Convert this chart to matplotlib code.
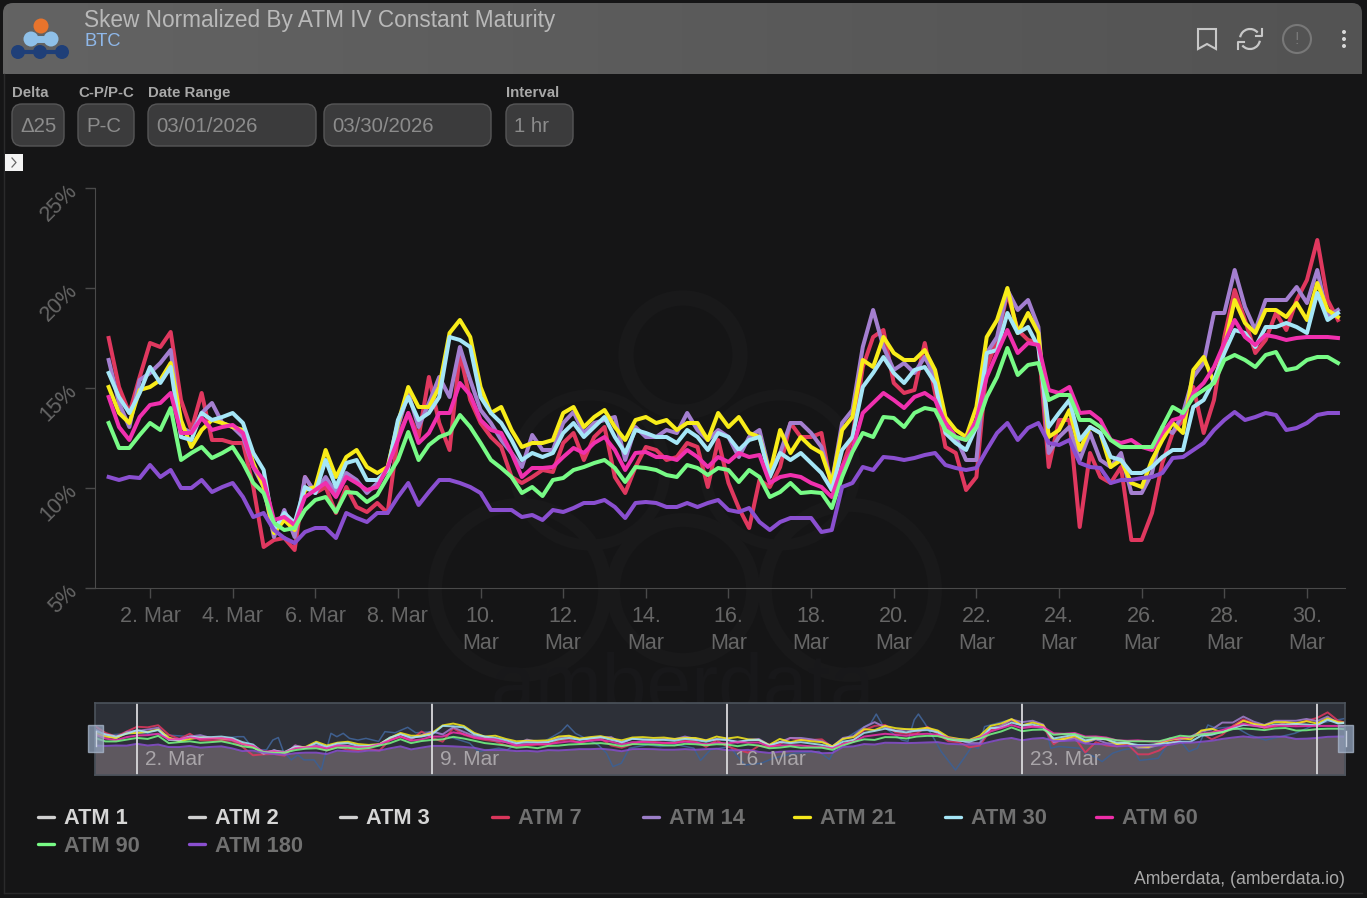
import numpy as np
import pandas as pd
import matplotlib
matplotlib.use("Agg")
import matplotlib.pyplot as plt
import matplotlib.dates as mdates
from matplotlib.patches import FancyBboxPatch, Circle, Rectangle, Arc, Polygon

plt.rcParams['font.family'] = ['Liberation Sans', 'DejaVu Sans']

# --- values, one value every 6 hours from 1 March ---
atm_7 = [17.5,15.05,13.75,15.55,17.25,17.05,17.8,14.4,12.9,14.75,12.4,12.4,12.25,12.25,10.05,7.05,7.4,7.5,6.9,10.55,9.75,10.05,8.75,10.05,9.05,8.8,9.25,8.75,12.55,13.75,12.55,15.55,13.25,11.9,16.75,14.4,13.25,12.55,
         12.05,10.55,10.25,10.55,10.9,10.8,12.25,12.75,11.4,12.55,13.05,10.55,9.75,11.05,12.05,11.9,11.4,11.55,12.25,12.05,10.05,12.4,10.25,9.0,8.0,10.4,10.05,11.05,13.25,12.55,12.55,12.75,9.9,11.05,12.55,16.05,17.55,17.9,15.25,14.75,
         14.9,17.25,14.75,12.05,11.75,9.9,10.55,16.05,17.4,19.75,17.9,17.4,17.25,11.05,13.4,13.4,8.05,11.75,10.55,10.25,11.05,7.4,7.4,8.75,11.25,12.75,13.4,15.05,12.75,14.4,17.55,19.9,18.4,16.75,17.4,18.75,17.9,19.4,20.4,22.4,19.4,18.4]
atm_14 = [16.4,14.25,13.05,15.4,15.75,16.25,16.9,13.05,12.75,13.75,14.25,13.25,13.05,12.55,11.05,10.05,7.55,8.9,7.55,10.55,9.75,10.55,9.75,10.75,10.4,9.75,10.25,10.9,13.05,14.75,13.05,14.25,15.55,14.55,17.05,15.4,13.9,13.25,
          12.4,11.75,11.05,12.65,11.9,11.9,13.25,13.8,12.75,13.25,13.4,13.55,11.4,13.05,12.55,12.55,12.9,12.75,13.75,12.9,12.4,12.9,12.55,11.55,12.55,12.9,10.75,11.75,13.25,13.25,12.75,12.05,10.25,13.25,13.9,17.05,18.9,17.05,15.9,16.25,
          15.75,16.55,15.55,12.9,12.55,11.4,11.4,16.75,17.55,19.9,18.9,19.4,18.05,11.75,12.55,13.05,11.4,12.75,11.4,11.05,11.75,9.75,9.75,10.75,13.05,12.75,13.75,15.55,16.25,18.75,18.75,20.9,19.05,17.9,19.4,19.4,19.4,20.05,19.25,20.9,18.55,18.9]
atm_21 = [15.05,13.75,13.25,14.9,15.05,15.4,16.25,13.4,12.05,12.9,13.4,13.25,13.05,12.9,11.25,10.05,7.75,8.4,7.9,9.9,10.05,11.9,10.55,11.55,11.9,11.05,10.75,11.05,13.25,15.05,14.05,14.05,15.05,17.75,18.4,17.55,15.05,13.75,
          14.05,12.9,12.05,12.25,12.25,12.4,13.75,14.05,13.05,13.55,13.9,13.05,12.4,13.4,13.55,13.25,13.4,12.9,13.25,13.25,12.4,13.75,13.05,13.55,12.75,12.55,10.75,12.9,11.75,12.55,12.05,11.75,10.25,12.9,13.55,16.4,16.05,17.55,16.75,16.4,
          16.4,16.9,15.9,13.55,12.9,12.55,14.05,17.55,18.4,20.0,17.75,18.75,17.75,12.55,12.9,13.9,11.9,13.05,12.75,11.05,11.4,10.25,10.05,11.4,12.4,13.25,12.75,15.9,16.55,15.25,17.05,19.4,18.25,17.75,18.9,18.9,18.55,19.25,18.4,20.25,18.9,18.55]
atm_30 = [15.75,14.55,13.75,14.75,16.05,15.25,16.05,12.55,12.4,13.75,13.4,13.55,13.75,13.25,11.75,10.9,7.9,8.75,8.25,10.05,9.75,11.4,10.05,11.25,11.4,10.4,10.4,10.9,13.4,14.55,13.4,13.75,14.55,17.55,17.4,17.05,14.55,13.75,
          13.25,12.4,11.4,11.75,11.55,11.75,12.75,13.25,12.55,13.05,13.55,12.55,11.75,12.9,12.75,12.55,12.55,12.25,12.9,12.55,11.9,12.75,12.55,11.9,12.4,12.55,10.55,11.75,11.4,11.75,11.25,10.75,9.9,11.9,12.55,15.05,15.75,16.55,15.75,15.25,
          15.9,16.05,15.25,12.75,12.25,11.9,13.05,16.75,16.9,18.75,17.75,18.05,17.05,13.05,13.75,14.4,12.4,13.05,12.75,11.55,11.4,10.75,10.75,11.05,11.55,11.9,11.9,14.05,14.4,15.4,16.75,17.9,17.75,17.05,18.05,18.05,18.25,18.05,17.75,19.75,18.4,18.75]
atm_60 = [14.55,13.05,12.4,13.55,14.15,14.25,14.75,12.75,12.75,13.5,12.9,13.05,13.15,12.75,11.05,10.4,8.4,8.55,8.15,9.55,9.9,10.25,9.55,10.55,10.25,9.9,10.05,11.05,12.4,13.75,12.25,12.75,13.75,13.75,15.25,14.65,13.4,12.9,
          12.75,11.75,10.55,11.0,11.0,11.05,11.55,12.0,11.75,12.25,12.55,11.9,10.9,11.75,11.8,11.55,11.55,11.4,11.9,11.55,11.05,11.55,11.3,11.75,11.55,11.65,10.25,10.55,10.65,10.55,10.25,10.05,9.55,11.05,11.9,13.75,14.25,14.75,14.4,14.0,
          14.55,14.75,14.4,13.25,12.55,12.4,13.4,15.55,16.75,17.9,16.75,17.25,17.15,14.9,14.75,15.05,13.75,13.8,13.4,12.4,12.25,12.4,12.05,11.9,12.75,13.4,13.55,14.75,15.25,16.05,17.25,18.4,17.55,17.15,17.65,17.55,17.4,17.5,17.55,17.55,17.55,17.5]
atm_90 = [13.25,12.0,12.0,12.65,13.25,12.9,14.0,11.4,11.75,12.05,11.5,11.75,12.05,11.25,10.25,9.75,8.25,7.9,8.0,8.9,9.4,9.55,8.8,9.8,9.75,9.3,9.65,10.55,11.4,12.8,11.4,12.15,12.55,12.75,13.65,13.05,12.25,11.4,
          11.0,10.55,9.75,10.05,9.6,10.4,10.5,10.9,11.05,11.25,11.4,11.0,10.3,11.05,11.0,10.9,10.65,10.55,11.15,11.0,10.65,11.0,10.9,10.3,10.9,10.55,9.55,9.8,10.25,9.75,9.8,9.75,9.0,10.55,11.8,12.75,12.55,13.55,13.5,13.05,
          13.75,14.0,13.9,12.9,12.55,12.4,13.05,14.55,15.55,17.0,15.65,16.15,16.25,14.4,14.65,14.65,13.4,13.4,13.05,12.4,12.05,12.05,12.05,12.05,13.05,14.05,13.75,14.55,14.9,15.25,16.4,16.65,16.4,16.05,16.65,16.8,15.9,16.0,16.4,16.55,16.55,16.25]
atm_180 = [10.55,10.4,10.55,10.5,11.15,10.55,10.9,10.0,10.0,10.4,9.8,10.05,10.25,9.55,8.55,8.75,7.9,7.5,7.25,7.8,8.0,8.0,7.5,8.75,8.5,8.3,8.75,8.75,9.55,10.25,9.15,9.8,10.4,10.4,10.25,10.05,9.75,8.9,
           8.9,8.9,8.55,8.65,8.4,8.9,8.8,9.0,9.25,9.25,9.4,9.05,8.5,9.25,9.3,9.25,9.05,9.05,9.25,9.05,9.25,9.4,8.9,8.8,9.0,8.3,7.9,8.3,8.5,8.5,8.5,7.8,7.9,10.05,10.25,11.05,10.9,11.55,11.5,11.4,
           11.5,11.65,11.75,11.15,11.0,10.9,11.0,11.9,12.75,13.25,12.4,13.0,13.25,12.25,12.15,12.4,11.25,11.05,11.0,10.25,10.4,10.4,10.5,10.55,10.75,11.5,11.55,11.9,12.25,12.9,13.4,13.8,13.4,13.55,13.75,13.65,12.9,13.0,13.25,13.65,13.75,13.75]

# ATM 1 is switched off in the main plot, only the navigator still shows it
atm_1_days = [1.0,2.0,3.0,4.0,4.38,4.53,4.68,4.88,5.07,5.22,5.35,5.47,5.66,5.81,5.96,6.2,6.37,6.47,6.6,6.74,6.89,7.04,7.24,7.43,7.73,7.88,8.12,8.42,8.61,9.01,9.89,10.09,10.34,10.58,10.78,10.98,11.66,12.06,12.21,12.4,12.94,13.14,13.29,13.49,13.68,14.12,14.42,14.81,15.21,15.37,15.6,16.07,
              16.22,16.42,16.81,17.1,17.6,18.18,18.43,18.63,19.26,19.41,19.54,19.71,20.15,20.29,20.44,20.54,20.69,20.93,21.08,21.42,21.62,21.81,21.96,22.11,22.7,23.04,23.29,23.58,23.68,23.87,24.36,24.51,24.71,24.9,25.15,25.39,25.64,25.79,26.23,26.47,26.77,26.96,27.16,27.41,27.6,28.04,28.39,28.78,29.47,30.05,30.69]
atm_1_vals = [14.0,15.0,14.0,13.0,13.7,13.7,10.8,9.0,9.0,12.5,13.4,8.4,5.4,7.2,5.4,5.4,1.8,7.8,14.9,13.7,14.9,13.1,12.5,13.1,12.0,15.5,15.1,17.05,15.1,15.5,11.4,8.4,9.0,9.6,9.0,10.8,12.0,15.5,17.9,14.9,10.8,7.8,3.0,4.2,9.6,10.8,10.2,10.8,9.6,5.2,9.0,10.2,
              7.2,3.6,4.2,6.0,7.8,8.4,5.6,11.4,17.3,18.5,21.8,17.3,12.5,12.0,19.7,21.8,18.5,12.5,8.4,1.8,6.0,10.2,9.6,17.3,19.7,17.3,17.3,16.1,9.6,10.2,9.6,7.8,6.6,4.8,7.8,9.0,9.6,5.2,6.0,11.4,12.0,8.4,9.6,17.9,16.7,17.3,14.3,12.5,14.9,18.5,20.3]

series_names = ["ATM 7", "ATM 14", "ATM 21", "ATM 30", "ATM 60", "ATM 90", "ATM 180"]
series_vals = [atm_7, atm_14, atm_21, atm_30, atm_60, atm_90, atm_180]
series_cols = ["#e0385f", "#a47fd0", "#f8ec1a", "#a5e6f7", "#f030ae", "#78fb86", "#8a4fd0"]

legend_names = ["ATM 1", "ATM 2", "ATM 3", "ATM 7", "ATM 14", "ATM 21", "ATM 30", "ATM 60", "ATM 90", "ATM 180"]
legend_cols = ["#d0d0d0", "#d0d0d0", "#d0d0d0", "#d9365b", "#9b7ec8", "#f5e81c", "#a5e6f7", "#ee2ea8", "#78fb86", "#8a4fd0"]
legend_on = [False, False, False, True, True, True, True, True, True, True]

y_ticks = [5, 10, 15, 20, 25]
main_tick_days = list(range(2, 31, 2))
nav_tick_days = [2, 9, 16, 23, 30]

W, H = 1367, 898
BG = "#151516"
start = pd.Timestamp("2026-03-01")


def axes_px(fig, left, top, right, bottom):
    return fig.add_axes([left / W, 1 - bottom / H, (right - left) / W, (bottom - top) / H])


def day_num(d):
    return mdates.date2num(start + pd.Timedelta(days=d - 1))


fig = plt.figure(figsize=(W / 100, H / 100), dpi=100, facecolor=BG)

# pixel canvas for all the page furniture
bg = fig.add_axes([0, 0, 1, 1])
bg.set_xlim(0, W)
bg.set_ylim(H, 0)
bg.axis("off")

# watermark
for cx, cy, r, lw in [(683, 355, 57, 11), (590, 470, 75, 8), (780, 470, 75, 8),
                      (520, 590, 85, 10), (683, 590, 70, 10), (850, 590, 85, 10)]:
    bg.add_patch(Circle((cx, cy), r, fill=False, ec="#19191a", lw=lw))
bg.text(683, 690, "amberdata", color="#18181a", fontsize=58, ha="center", va="center")

# header
grad = np.linspace(0, 1, 256).reshape(1, -1)
im = bg.imshow(grad, extent=(3, 1362, 74, 3), cmap=matplotlib.colors.LinearSegmentedColormap.from_list("h", ["#636363", "#535353"]), aspect="auto", zorder=1)
clip = FancyBboxPatch((3, 3), 1359, 90, boxstyle="round,pad=0,rounding_size=10", lw=0, fc="none", transform=bg.transData)
bg.add_patch(clip)
im.set_clip_path(clip)
bg.set_xlim(0, W)
bg.set_ylim(H, 0)
bg.plot([4, 4], [74, 893], color="#2a2a2b", lw=1, zorder=1)
bg.plot([4, 1362], [893, 893], color="#2a2a2b", lw=1, zorder=1)

# logo
for cx, cy, r, c in [(18, 52, 7, "#1f3f78"), (40, 52, 7, "#1f3f78"), (62, 52, 7, "#1f3f78")]:
    bg.add_patch(Circle((cx, cy), r, fc=c, lw=0, zorder=2))
bg.plot([18, 62], [52, 52], color="#1f3f78", lw=3, zorder=2)
bg.plot([31, 51], [39, 39], color="#8fc0e8", lw=5, zorder=2)
for cx in [31, 51]:
    bg.add_patch(Circle((cx, 39), 7.5, fc="#8fc0e8", lw=0, zorder=2))
bg.add_patch(Circle((41, 26), 7.5, fc="#e8742c", lw=0, zorder=2))

bg.text(84, 21, "Skew Normalized By ATM IV Constant Maturity", color="#b9b9b9", fontsize=16.3, va="center", zorder=3)
bg.text(84, 42, "BTC", color="#8fb8ea", fontsize=13.2, va="center", zorder=3)

# header icons
bg.add_patch(Polygon([(1198, 29), (1216, 29), (1216, 49), (1207, 44), (1198, 49)], closed=True, fill=False, ec="#c8c8c8", lw=1.5, zorder=3))
bg.add_patch(Arc((1250, 39), 20, 20, theta1=190, theta2=320, ec="#c8c8c8", lw=1.6, zorder=3))
bg.add_patch(Arc((1250, 39), 20, 20, theta1=10, theta2=140, ec="#c8c8c8", lw=1.6, zorder=3))
bg.plot([1262, 1262, 1256], [29, 36, 36], color="#c8c8c8", lw=1.5, zorder=3)
bg.plot([1238, 1238, 1244], [49, 42, 42], color="#c8c8c8", lw=1.5, zorder=3)
bg.add_patch(Circle((1297, 39), 14, fill=False, ec="#787878", lw=1.5, zorder=3))
bg.text(1297, 39, "!", color="#787878", fontsize=12, ha="center", va="center", zorder=3)
for dy in [32, 39, 46]:
    bg.add_patch(Circle((1344, dy), 2, fc="#d8d8d8", lw=0, zorder=3))

# controls
for x, label in [(12, "Delta"), (78, "C-P/P-C"), (148, "Date Range"), (506, "Interval")]:
    bg.text(x, 93, label, color="#a8a8a8", fontsize=10.8, fontweight="bold", va="center")
for x0, x1, label in [(12, 64, "\u039425"), (78, 134, "P-C"), (148, 316, "03/01/2026"), (324, 491, "03/30/2026"), (506, 573, "1 hr")]:
    bg.add_patch(FancyBboxPatch((x0, 104), x1 - x0, 42, boxstyle="round,pad=0,rounding_size=10", fc="#3b3b3c", ec="#565657", lw=1))
    bg.text(x0 + 8, 127, label, color="#8c8c8c", fontsize=14.7, va="center")
bg.add_patch(Rectangle((5, 154), 18, 17, fc="#f4f4f4", lw=0))
bg.plot([12, 16, 12], [158, 162.5, 167], color="#666666", lw=0.9)

# legend
slots = [(37, 817), (188, 817), (339, 817), (491, 817), (642, 817), (793, 817), (944, 817), (1095, 817), (37, 844), (188, 844)]
for (x, y), name, col, on in zip(slots, legend_names, legend_cols, legend_on):
    bg.plot([x + 1, x + 17], [y, y], color=col, lw=2.4, solid_capstyle="round")
    bg.text(x + 27, y + 2, name, color="#707070" if on else "#d6d6d6", fontsize=15.7, fontweight="bold", va="center")

bg.text(1345, 879, "Amberdata, (amberdata.io)", color="#a8a8a8", fontsize=12.7, ha="right", va="center")

# main plot
ax = axes_px(fig, 95, 188, 1345, 588)
ax.patch.set_alpha(0)
for vals, col, name in zip(series_vals, series_cols, series_names):
    t = start + pd.to_timedelta(np.arange(len(vals)) * 6, unit="h")
    ax.plot(t, vals, color=col, lw=2.9, label=name, solid_joinstyle="round")
ax.set_xlim(day_num(2) - 55 / 41.32, day_num(2) + 1195 / 41.32)
ax.set_ylim(5, 25)
ax.set_yticks(y_ticks)
ax.set_yticklabels([f"{v}%" for v in y_ticks], rotation=45, ha="right", va="center", rotation_mode="anchor", color="#666666", fontsize=15.5)
ax.set_xticks([day_num(d) for d in main_tick_days])
ax.set_xticklabels([f"{d}. Mar" if d < 10 else f"{d}.\nMar" for d in main_tick_days], color="#666666", fontsize=15.5, linespacing=1.35)
ax.tick_params(axis="x", color="#4a4a4a", length=7, width=1, pad=6)
ax.tick_params(axis="y", color="#4a4a4a", length=7, width=1, pad=8)
for side in ["top", "right"]:
    ax.spines[side].set_visible(False)
for side in ["left", "bottom"]:
    ax.spines[side].set_color("#4a4a4a")

# navigator
nav = axes_px(fig, 95, 703, 1345, 775)
nav.set_facecolor("#2d3038")
nav_t = start + pd.to_timedelta(np.arange(len(atm_180)) * 6, unit="h")
nav.fill_between(nav_t, 0, atm_180, color="#5e585f", lw=0)
nav.plot([day_num(d) for d in atm_1_days], atm_1_vals, color="#3f5f8f", lw=1.1)
for vals, col in zip(series_vals, series_cols):
    nav.plot(nav_t, vals, color=col, lw=1.4, alpha=0.85)
nav.set_xlim(day_num(1), day_num(1) + 1250 / 42.14)
nav.set_ylim(0, 25.75)
nav.set_yticks([])
nav.set_xticks([])
for d in nav_tick_days:
    nav.axvline(day_num(d), color="#d9d9dc", lw=1.3)
    if d < 30:
        nav.annotate(f"{d}. Mar", (day_num(d), 0), xytext=(5.5, 4), textcoords="offset points", color="#a9a5a9", fontsize=15, va="bottom")
for side in nav.spines.values():
    side.set_color("#4c535c")
    side.set_linewidth(1.2)

top = fig.add_axes([0, 0, 1, 1])
top.set_xlim(0, W)
top.set_ylim(H, 0)
top.axis("off")
for x in [88, 1338]:
    top.add_patch(Rectangle((x, 725), 15, 27, fc="#93a5c0", ec="#aab8cc", alpha=0.75, lw=1))
    top.plot([x + 7.5, x + 7.5], [731, 746], color="#c7d0de", lw=1)

fig.savefig("out.png", dpi=100, facecolor=BG)
